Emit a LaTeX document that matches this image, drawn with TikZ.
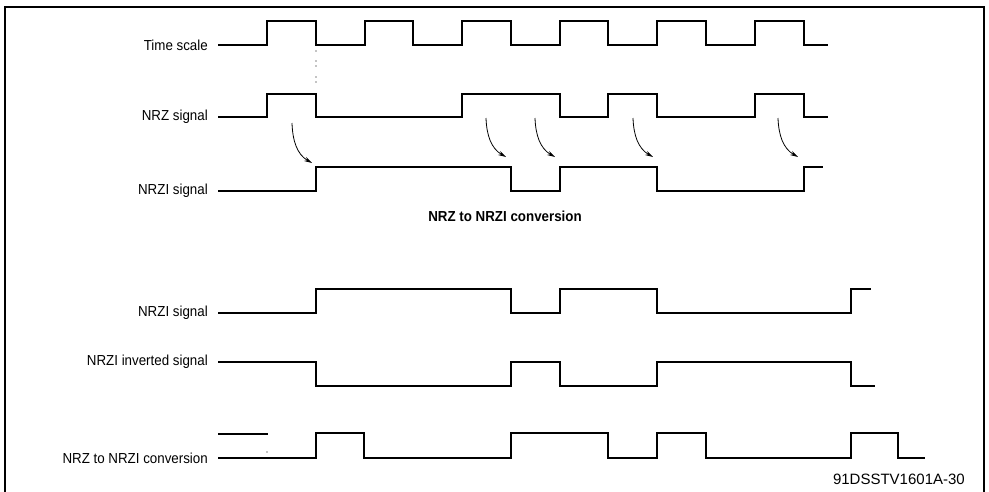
\documentclass[tikz,border=0pt]{standalone}
\usepackage{fontspec}
\setmainfont{Liberation Sans}
\newfontfamily\lblfont[FakeStretch=0.92]{Liberation Sans}
\usetikzlibrary{arrows.meta}
\begin{document}
\begin{tikzpicture}[x=1pt,y=-1pt,
  lbl/.style={anchor=east,inner sep=0pt,font=\lblfont\fontsize{14.5}{17}\selectfont},
  ttl/.style={inner sep=0pt,font=\lblfont\fontsize{14.5}{17}\selectfont\bfseries},
  foot/.style={anchor=east,inner sep=0pt,font=\fontsize{15}{18}\selectfont},
  sig/.style={line width=1.6pt,line join=miter},
  conv/.style={line width=0.8pt,-{Stealth[length=8pt,width=4.5pt]}},
  frame/.style={line width=1.2pt}]
\useasboundingbox (0,0) rectangle (989,491);
\draw[frame] (5,500) -- (5,7) -- (984,7) -- (984,500);

% labels
\node[lbl] (lts) at (208,45) {Time scale};
\node[lbl] (lnrz) at (208,117) {NRZ signal};
\node[lbl] (lnrzi) at (208,191) {NRZI signal};
\node[ttl] (title) at (505,216) {NRZ to NRZI conversion};
\node[lbl] (lnrzi2) at (208,313) {NRZI signal};
\node[lbl] (linv) at (208,362) {NRZI inverted signal};
\node[lbl] (lconv) at (208,458) {NRZ to NRZI conversion};
\node[foot] (code) at (965,479) {91DSSTV1601A-30};

% time scale
\draw[sig] (218,45) -| (267,21) -| (316,45) -| (365,21) -| (413,45) -| (462,21) -| (511,45)
  -| (560,21) -| (608,45) -| (657,21) -| (706,45) -| (755,21) -| (804,45) -- (828,45);
% NRZ signal
\draw[sig] (218,117) -| (267,94) -| (316,117) -| (462,94) -| (560,117) -| (608,94) -| (657,117)
  -| (755,94) -| (804,117) -- (828,117);
% NRZI signal
\draw[sig] (218,191) -| (316,167) -| (511,191) -| (560,167) -| (657,191) -| (804,167) -- (823,167);

% dotted guide
\foreach \y in {51,61,66,77,82} { \fill (316,\y) circle (0.7pt); }

% conversion arrows
\coordinate (a1s) at (292,123); \coordinate (a1e) at (312,163);
\coordinate (a2s) at (486,118); \coordinate (a2e) at (506,157);
\coordinate (a3s) at (535,118); \coordinate (a3e) at (555,157);
\coordinate (a4s) at (633,118); \coordinate (a4e) at (653,157);
\coordinate (a5s) at (778,118); \coordinate (a5e) at (798,157);
\foreach \i in {1,...,5} {
  \draw[conv] (a\i s) to[out=-88,in=150] (a\i e);
}

% lower section
\draw[sig] (218,313) -| (316,289) -| (511,313) -| (560,289) -| (657,313) -| (851,289) -- (871,289);
\draw[sig] (218,362) -| (316,386) -| (511,362) -| (560,386) -| (657,362) -| (851,386) -- (875,386);
\draw[sig] (218,458) -| (316,433) -| (364,458) -| (511,433) -| (608,458) -| (657,433) -| (706,458)
  -| (851,433) -| (898,458) -- (925,458);
\draw[line width=1.4pt] (218,434) -- (268,434);
\fill (267,452) circle (0.7pt);
\end{tikzpicture}
\end{document}
